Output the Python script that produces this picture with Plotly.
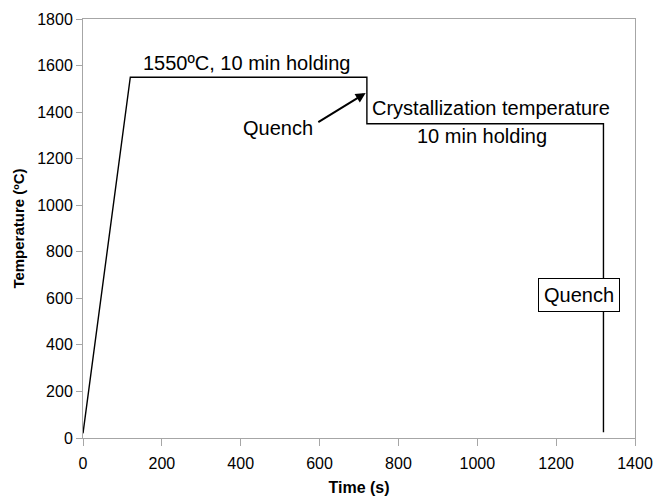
import plotly.graph_objects as go

# Heat-treatment schedule: time (s) vs furnace temperature (°C)
time_s = [0, 120, 720, 720, 1320, 1320]
temp_c = [20, 1550, 1550, 1350, 1350, 25]

x_ticks = [0, 200, 400, 600, 800, 1000, 1200, 1400]
y_ticks = [0, 200, 400, 600, 800, 1000, 1200, 1400, 1600, 1800]

FONT = "Liberation Sans, Arial, sans-serif"
AXIS_GREY = "#a6a6a6"
LABEL_SIZE = 20

fig = go.Figure()
fig.add_trace(go.Scatter(
    x=time_s, y=temp_c, mode="lines",
    line=dict(color="black", width=1.4),
    showlegend=False, hoverinfo="skip",
))

fig.update_layout(
    width=654, height=497,
    margin=dict(l=83, r=19, t=19, b=59),
    paper_bgcolor="white", plot_bgcolor="white",
    font=dict(family=FONT, size=16, color="black"),
)

fig.update_xaxes(
    range=[0, 1400], tickvals=x_ticks, ticks="outside", ticklen=7,
    tickcolor=AXIS_GREY, showgrid=False, zeroline=False,
    showline=True, linecolor=AXIS_GREY, linewidth=1, mirror=True,
    tickfont=dict(size=16), automargin=False, ticklabelstandoff=4,
    title=dict(text="<b>Time (s)</b>", font=dict(size=16), standoff=10),
)
fig.update_yaxes(
    range=[0, 1800], tickvals=y_ticks, ticks="outside", ticklen=6,
    tickcolor=AXIS_GREY, showgrid=False, zeroline=False,
    showline=True, linecolor=AXIS_GREY, linewidth=1, mirror=True,
    tickfont=dict(size=16), automargin=False,
    title=dict(text="<b>Temperature (ºC)</b>", font=dict(size=15), standoff=8),
)

# Stage labels
fig.add_annotation(x=414, y=1611, text="1550ºC, 10 min holding",
                   showarrow=False, font=dict(size=LABEL_SIZE))
fig.add_annotation(x=1034, y=1417, text="Crystallization temperature",
                   showarrow=False, font=dict(size=LABEL_SIZE))
fig.add_annotation(x=1011, y=1297, text="10 min holding",
                   showarrow=False, font=dict(size=LABEL_SIZE))

# First quench, pointed at the drop from the melt hold
fig.add_annotation(x=717, y=1482, ax=593, ay=1353, axref="x", ayref="y",
                   text="", showarrow=True, arrowhead=2, arrowsize=1,
                   arrowwidth=2, arrowcolor="black")
fig.add_annotation(x=495, y=1332, text="Quench", showarrow=False,
                   font=dict(size=LABEL_SIZE), xanchor="center")

# Final quench, boxed label over the last drop
fig.add_annotation(x=1257, y=614, text="Quench", showarrow=False,
                   font=dict(size=LABEL_SIZE), bgcolor="white",
                   bordercolor="black", borderwidth=1, borderpad=5)

fig.write_html("out.html")
